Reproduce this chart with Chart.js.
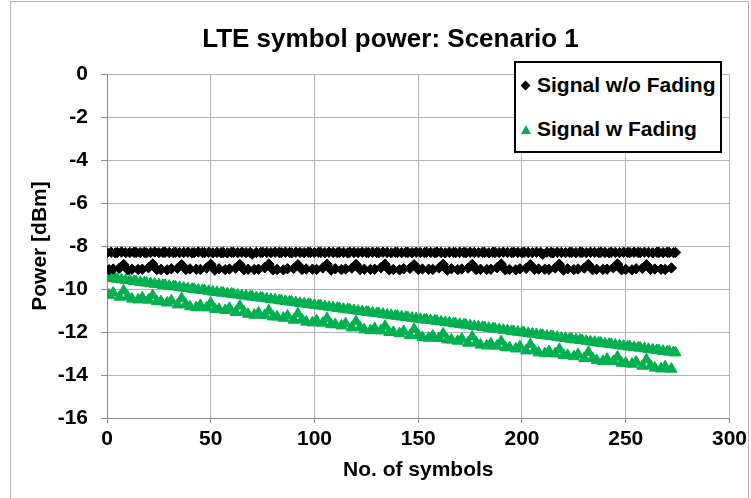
<!DOCTYPE html>
<html lang="en">
<head>
  <meta charset="UTF-8">
  <title>LTE symbol power: Scenario 1</title>
  <style>
    body {
      margin: 0;
      background: #fff;
      overflow: hidden;
      font-family: 'Liberation Sans', Arial, sans-serif;
    }
    #wrap {
      position: relative;
      width: 751px;
      height: 498px;
    }
    #frame {
      position: absolute;
      left: 10px;
      top: 1px;
      width: 737px;
      height: 520px;
      border: 1px solid #b4b4b4;
    }
    #legend {
      position: absolute;
      left: 514px;
      top: 61px;
      width: 208px;
      height: 92px;
      box-sizing: border-box;
      border: 2px solid #000;
      background: #fff;
    }
    .item {
      position: absolute;
      left: 21px;
      font-weight: bold;
      font-size: 21px;
      line-height: 25px;
      color: #000;
      white-space: nowrap;
    }
    .diamond {
      position: absolute;
      width: 7px;
      height: 7px;
      background: #000;
      transform: rotate(45deg);
    }
    .tri {
      position: absolute;
      width: 0;
      height: 0;
      border-left: 5.5px solid transparent;
      border-right: 5.5px solid transparent;
      border-bottom: 9.5px solid #00b050;
    }
  </style>
</head>
<body>

<div id="wrap">
  <div id="frame"></div>
  <canvas id="powerChart"></canvas>
  <div id="legend">
    <div class="diamond" style="left:6px;top:19px"></div>
    <div class="item" style="top:9px">Signal w/o Fading</div>
    <div class="tri" style="left:5px;top:62px"></div>
    <div class="item" style="top:53px">Signal w Fading</div>
  </div>
</div>

<script src="https://cdn.jsdelivr.net/npm/chart.js"></script>
<script>
  // symbol power in dBm, one row per 14-symbol subframe (symbol index = position)
  const noFading = [
    -8.31,-9.10,-8.29,-9.07,-8.32,-8.30,-9.03,-8.28,-8.86,-8.31,-9.11,-8.30,-9.08,-8.29,
    -8.30,-9.09,-8.31,-9.08,-8.29,-8.32,-9.01,-8.30,-8.84,-8.28,-9.10,-8.31,-9.09,-8.30,
    -8.29,-9.11,-8.30,-9.06,-8.31,-8.29,-9.04,-8.31,-8.87,-8.30,-9.09,-8.29,-9.07,-8.32,
    -8.31,-9.08,-8.28,-9.09,-8.30,-8.31,-9.02,-8.29,-8.85,-8.32,-9.12,-8.30,-9.06,-8.31,
    -8.30,-9.10,-8.32,-9.07,-8.29,-8.30,-9.03,-8.31,-8.86,-8.29,-9.10,-8.31,-9.08,-8.30,
    -8.38,-9.09,-8.30,-9.08,-8.31,-8.29,-9.01,-8.30,-8.84,-8.31,-9.11,-8.29,-9.09,-8.30,
    -8.31,-9.11,-8.29,-9.06,-8.30,-8.32,-9.04,-8.29,-8.87,-8.30,-9.09,-8.31,-9.07,-8.29,
    -8.30,-9.08,-8.31,-9.09,-8.29,-8.30,-9.02,-8.31,-8.85,-8.29,-9.12,-8.30,-9.06,-8.31,
    -8.29,-9.10,-8.30,-9.07,-8.32,-8.29,-9.03,-8.30,-8.86,-8.31,-9.10,-8.29,-9.08,-8.30,
    -8.31,-9.09,-8.29,-9.08,-8.30,-8.31,-9.01,-8.29,-8.84,-8.30,-9.11,-8.32,-9.09,-8.29,
    -8.30,-9.11,-8.31,-9.06,-8.29,-8.30,-9.04,-8.31,-8.87,-8.29,-9.09,-8.30,-9.07,-8.31,
    -8.29,-9.08,-8.30,-9.09,-8.31,-8.29,-9.02,-8.30,-8.85,-8.32,-9.12,-8.29,-9.06,-8.30,
    -8.31,-9.10,-8.29,-9.07,-8.30,-8.31,-9.03,-8.29,-8.86,-8.30,-9.10,-8.31,-9.08,-8.29,
    -8.30,-9.09,-8.32,-9.08,-8.29,-8.30,-9.01,-8.31,-8.84,-8.29,-9.11,-8.30,-9.09,-8.31,
    -8.29,-9.11,-8.30,-9.06,-8.31,-8.29,-9.04,-8.30,-8.87,-8.31,-9.09,-8.29,-9.07,-8.30,
    -8.38,-9.08,-8.29,-9.09,-8.30,-8.32,-9.02,-8.29,-8.85,-8.30,-9.12,-8.31,-9.06,-8.29,
    -8.30,-9.10,-8.31,-9.07,-8.29,-8.30,-9.03,-8.31,-8.86,-8.29,-9.10,-8.30,-9.08,-8.31,
    -8.29,-9.09,-8.30,-9.08,-8.32,-8.29,-9.01,-8.30,-8.84,-8.31,-9.11,-8.29,-9.09,-8.30,
    -8.31,-9.11,-8.29,-9.06,-8.30,-8.31,-9.04,-8.29,-8.87,-8.30,-9.09,-8.32,-9.07,-8.29,
    -8.30,-9.08,-8.31,-9.09,-8.29,-8.30,-9.02,-8.31,-8.30
  ];

  const withFading = [
    -9.47,-10.28,-9.50,-10.18,-9.52,-9.53,-10.37,-9.56,-10.08,-9.59,-10.36,-9.61,-10.46,-9.64,
    -9.65,-10.50,-9.68,-10.40,-9.70,-9.71,-10.51,-9.74,-10.30,-9.77,-10.58,-9.79,-10.58,-9.82,
    -9.83,-10.64,-9.86,-10.54,-9.88,-9.89,-10.73,-9.92,-10.44,-9.95,-10.72,-9.97,-10.82,-10.00,
    -10.01,-10.86,-10.04,-10.76,-10.06,-10.07,-10.87,-10.10,-10.66,-10.13,-10.94,-10.15,-10.94,-10.18,
    -10.18,-10.99,-10.21,-10.89,-10.23,-10.24,-11.08,-10.27,-10.79,-10.30,-11.07,-10.32,-11.17,-10.35,
    -10.36,-11.21,-10.39,-11.11,-10.41,-10.42,-11.22,-10.45,-11.01,-10.48,-11.29,-10.50,-11.29,-10.53,
    -10.54,-11.35,-10.57,-11.25,-10.59,-10.60,-11.44,-10.63,-11.15,-10.66,-11.43,-10.68,-11.53,-10.71,
    -10.72,-11.57,-10.75,-11.47,-10.77,-10.78,-11.58,-10.81,-11.37,-10.84,-11.65,-10.86,-11.65,-10.89,
    -10.90,-11.71,-10.93,-11.61,-10.95,-10.96,-11.80,-10.99,-11.51,-11.02,-11.79,-11.04,-11.89,-11.07,
    -11.08,-11.93,-11.11,-11.83,-11.13,-11.14,-11.94,-11.17,-11.73,-11.20,-12.01,-11.22,-12.01,-11.25,
    -11.26,-12.07,-11.29,-11.97,-11.31,-11.32,-12.16,-11.35,-11.87,-11.38,-12.15,-11.40,-12.25,-11.43,
    -11.43,-12.28,-11.46,-12.18,-11.48,-11.49,-12.29,-11.52,-12.08,-11.55,-12.36,-11.57,-12.36,-11.60,
    -11.61,-12.42,-11.64,-12.32,-11.66,-11.67,-12.51,-11.70,-12.22,-11.73,-12.50,-11.75,-12.60,-11.78,
    -11.79,-12.64,-11.82,-12.54,-11.84,-11.85,-12.65,-11.88,-12.44,-11.91,-12.72,-11.93,-12.72,-11.96,
    -11.97,-12.78,-12.00,-12.68,-12.02,-12.03,-12.87,-12.06,-12.58,-12.09,-12.86,-12.11,-12.96,-12.14,
    -12.15,-13.00,-12.18,-12.90,-12.20,-12.21,-13.01,-12.24,-12.80,-12.27,-13.08,-12.29,-13.08,-12.32,
    -12.33,-13.14,-12.36,-13.04,-12.38,-12.39,-13.23,-12.42,-12.94,-12.45,-13.22,-12.47,-13.32,-12.50,
    -12.51,-13.36,-12.54,-13.26,-12.56,-12.57,-13.37,-12.60,-13.16,-12.63,-13.44,-12.65,-13.44,-12.68,
    -12.68,-13.49,-12.71,-13.39,-12.73,-12.74,-13.58,-12.77,-13.29,-12.80,-13.57,-12.82,-13.67,-12.85,
    -12.86,-13.71,-12.89,-13.61,-12.91,-12.92,-13.72,-12.95,-12.96
  ];

  const xTicks = [0, 50, 100, 150, 200, 250, 300];
  const yTicks = [-16, -14, -12, -10, -8, -6, -4, -2, 0];

  const toPoints = arr => arr.map((v, i) => ({ x: i, y: v }));

  const boldFont = { family: "'Liberation Sans', Arial, sans-serif", size: 21, weight: 'bold' };

  const ctx = document.getElementById('powerChart').getContext('2d');
  new Chart(ctx, {
    type: 'scatter',
    data: {
      datasets: [{
        label: 'Signal w/o Fading',
        data: toPoints(noFading),
        pointStyle: 'rectRot',
        pointRadius: 5.2,
        backgroundColor: '#000',
        borderColor: '#000',
        borderWidth: 1
      }, {
        label: 'Signal w Fading',
        data: toPoints(withFading),
        pointStyle: 'triangle',
        pointRadius: 6.4,
        backgroundColor: '#00b050',
        borderColor: '#00b050',
        borderWidth: 1
      }]
    },
    options: {
      responsive: true,
      maintainAspectRatio: false,
      animation: false,
      events: [],
      layout: { padding: { left: 50, right: 20, top: 8, bottom: 8 } },
      plugins: {
        legend: { display: false },
        tooltip: { enabled: false },
        title: {
          display: true,
          text: 'LTE symbol power: Scenario 1',
          color: '#000',
          font: { family: "'Liberation Sans', Arial, sans-serif", size: 26, weight: 'bold' },
          padding: { top: 16.4, bottom: 18.4 }
        }
      },
      scales: {
        x: {
          type: 'linear',
          min: 0,
          max: 300,
          afterBuildTicks: s => { s.ticks = xTicks.map(v => ({ value: v })); },
          afterFit: s => { s.height = 72; },
          ticks: { color: '#000', font: boldFont, padding: 4 },
          grid: { color: '#b3b3b3', tickColor: '#8c8c8c', tickLength: 5 },
          border: { color: '#8c8c8c' },
          title: {
            display: true,
            text: 'No. of symbols',
            color: '#000',
            font: boldFont,
            padding: { top: 0, bottom: 7.4 }
          }
        },
        y: {
          min: -16,
          max: 0,
          afterBuildTicks: s => { s.ticks = yTicks.map(v => ({ value: v })); },
          afterFit: s => { s.width = 57; },
          ticks: { color: '#000', font: boldFont, padding: 13 },
          grid: { color: '#b3b3b3', tickColor: '#8c8c8c', tickLength: 6 },
          border: { color: '#8c8c8c' },
          title: {
            display: true,
            text: 'Power [dBm]',
            color: '#000',
            font: boldFont,
            padding: { top: -22.6, bottom: 0 }
          }
        }
      }
    }
  });
</script>

</body>
</html>
